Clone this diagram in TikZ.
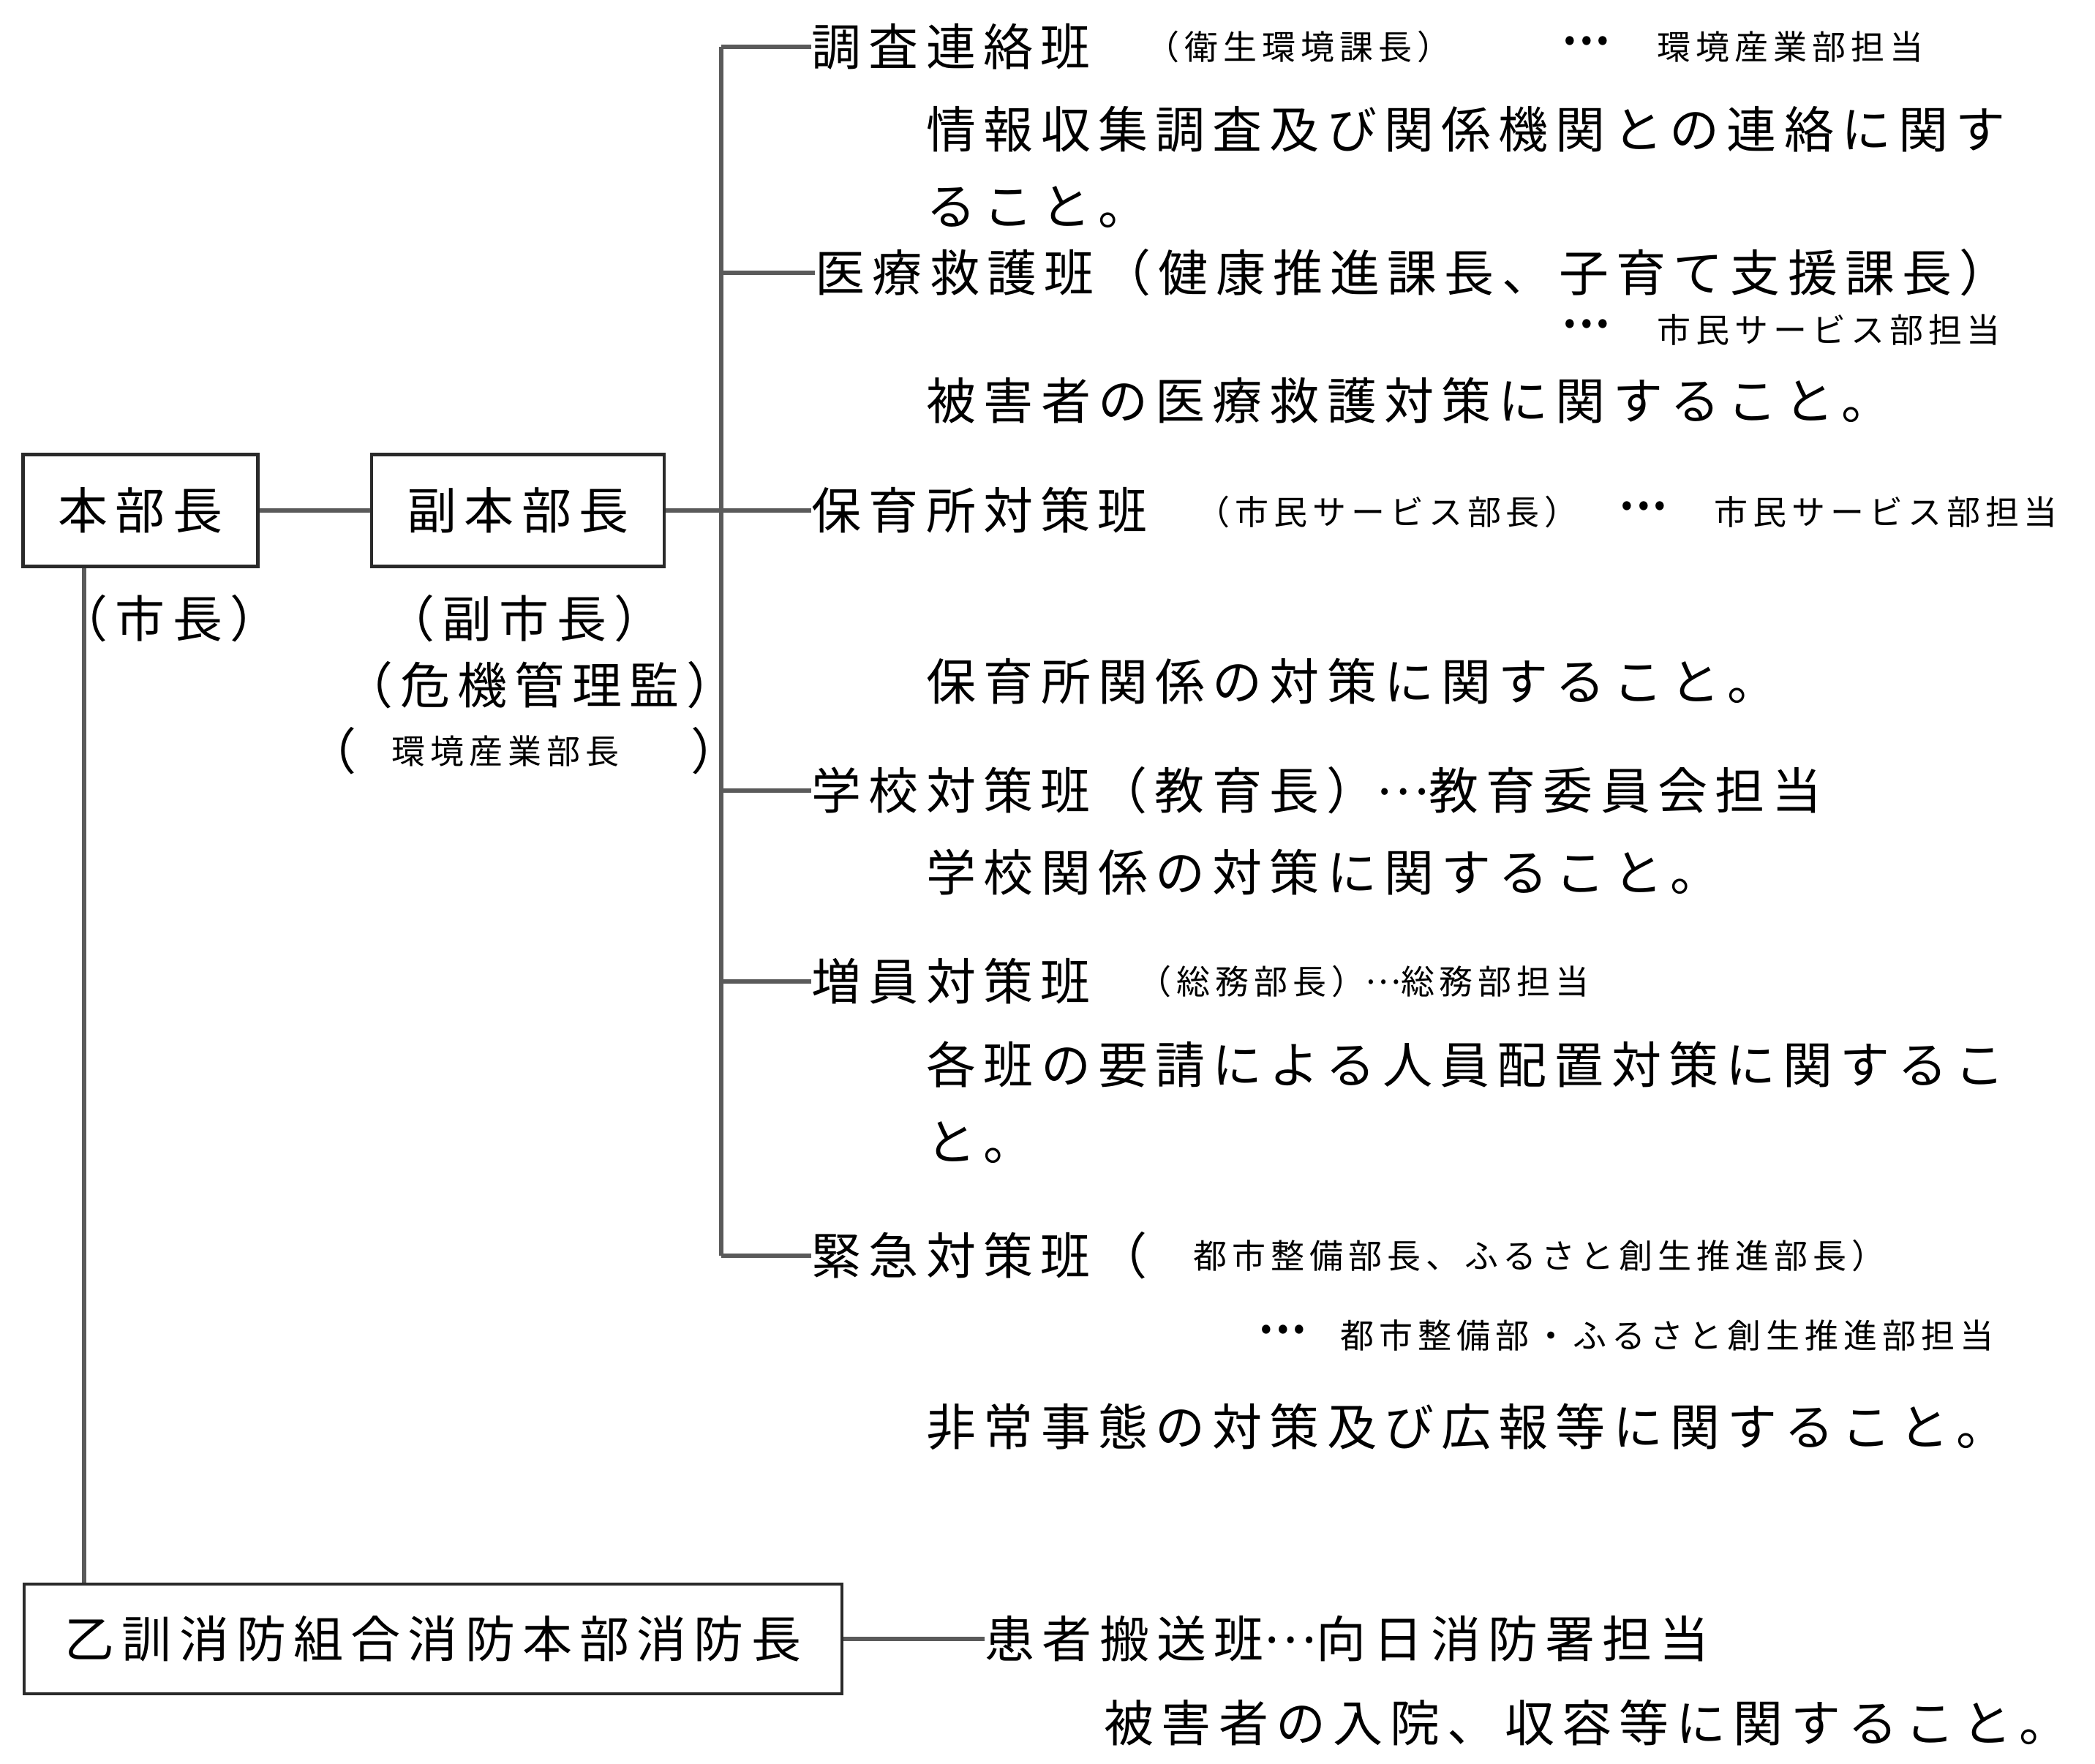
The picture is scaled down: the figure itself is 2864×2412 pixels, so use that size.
\documentclass[tikz,border=0pt]{standalone}
\usepackage{fontspec}
\newfontfamily\jp[LetterSpace=15]{Noto Sans CJK JP}
\newcommand\jdots{\raisebox{0.3em}{…}}
\definecolor{linec}{HTML}{5A5A5A}
\definecolor{boxc}{HTML}{2A2A2A}
\tikzset{
  big/.style={font=\jp\fontsize{17pt}{20pt}\selectfont, inner sep=0pt, anchor=west},
  sm/.style={font=\jp\fontsize{11.5pt}{14pt}\selectfont, inner sep=0pt, anchor=west},
  bigc/.style={font=\jp\fontsize{17pt}{20pt}\selectfont, inner sep=0pt, anchor=center},
  orgbox/.style={draw=boxc, line width=1.1pt, font=\jp\fontsize{17pt}{20pt}\selectfont, inner sep=0pt},
  conn/.style={draw=linec, line width=1.3pt},
}
\begin{document}
\begin{tikzpicture}[x=0.25pt, y=-0.25pt]
\useasboundingbox (0,0) rectangle (2864,2412);

% boxes
\node[orgbox, minimum width=80.25pt, minimum height=38.25pt] (honbu) at (192,698) {本部長};
\node[orgbox, minimum width=100pt, minimum height=38.25pt] (fuku) at (708,698) {副本部長};
\node[orgbox, minimum width=279.5pt, minimum height=37.5pt] (oto) at (592,2241) {乙訓消防組合消防本部消防長};

% labels under boxes
\node[bigc] (shicho) at (231,846) {（市長）};
\node[bigc] (fukushi) at (717,846) {（副市長）};
\node[bigc] (kiki) at (738,937) {（危機管理監）};
\node[bigc] (kpl) at (453,1027) {（};
\node[sm] (kankyo) at (535,1027) {環境産業部長};
\node[bigc] (kpr) at (978,1027) {）};

% branch 1
\node[big] (b1) at (1109,64) {調査連絡班};
\node[sm] (b1a) at (1566,64) {（衛生環境課長）};
\node[sm] (b1b) at (2138,60) {•••};
\node[sm] (b1c) at (2265,64) {環境産業部担当};
\node[big] (d1a) at (1266,177) {情報収集調査及び関係機関との連絡に関す};
\node[big] (d1b) at (1266,283) {ること。};

% branch 2
\node[big] (b2) at (1114,373) {医療救護班（健康推進課長、子育て支援課長）};
\node[sm] (b2b) at (2138,447) {•••};
\node[sm] (b2c) at (2265,451) {市民サービス部担当};
\node[big] (d2) at (1266,548) {被害者の医療救護対策に関すること。};

% branch 3
\node[big] (b3) at (1109,698) {保育所対策班};
\node[sm] (b3a) at (1635,700) {（市民サービス部長）};
\node[sm] (b3b) at (2216,696) {•••};
\node[sm] (b3c) at (2343,700) {市民サービス部担当};
\node[big] (d3) at (1266,932) {保育所関係の対策に関すること。};

% branch 4
\node[big] (b4) at (1109,1081) {学校対策班（教育長）\jdots 教育委員会担当};
\node[big] (d4) at (1266,1193) {学校関係の対策に関すること。};

% branch 5
\node[big] (b5) at (1109,1342) {増員対策班};
\node[sm] (b5a) at (1555,1342) {（総務部長）\jdots 総務部担当};
\node[big] (d5a) at (1266,1456) {各班の要請による人員配置対策に関するこ};
\node[big] (d5b) at (1266,1562) {と。};

% branch 6
\node[big] (b6) at (1109,1717) {緊急対策班（};
\node[sm] (b6a) at (1631,1717) {都市整備部長、ふるさと創生推進部長）};
\node[sm] (b6b) at (1723,1822) {•••};
\node[sm] (b6c) at (1832,1826) {都市整備部・ふるさと創生推進部担当};
\node[big] (d6) at (1266,1951) {非常事態の対策及び広報等に関すること。};

% fire dept branch
\node[big] (b7) at (1346,2241) {患者搬送班\jdots 向日消防署担当};
\node[big] (d7) at (1509,2356) {被害者の入院、収容等に関すること。};

% connectors
\coordinate (tx) at (986,0);
\coordinate (vx) at (115,0);
\draw[conn] (honbu.east) -- (fuku.west);
\draw[conn] (fuku.east) -- (b3.west);
\draw[conn] (tx |- b1.west) -- (tx |- b6.west);
\draw[conn] (tx |- b1.west) -- (b1.west);
\draw[conn] (tx |- b2.west) -- (b2.west);
\draw[conn] (tx |- b4.west) -- (b4.west);
\draw[conn] (tx |- b5.west) -- (b5.west);
\draw[conn] (tx |- b6.west) -- (b6.west);
\draw[conn] (vx |- honbu.south) -- (vx |- oto.north);
\draw[conn] (oto.east) -- (b7.west);
\end{tikzpicture}
\end{document}
